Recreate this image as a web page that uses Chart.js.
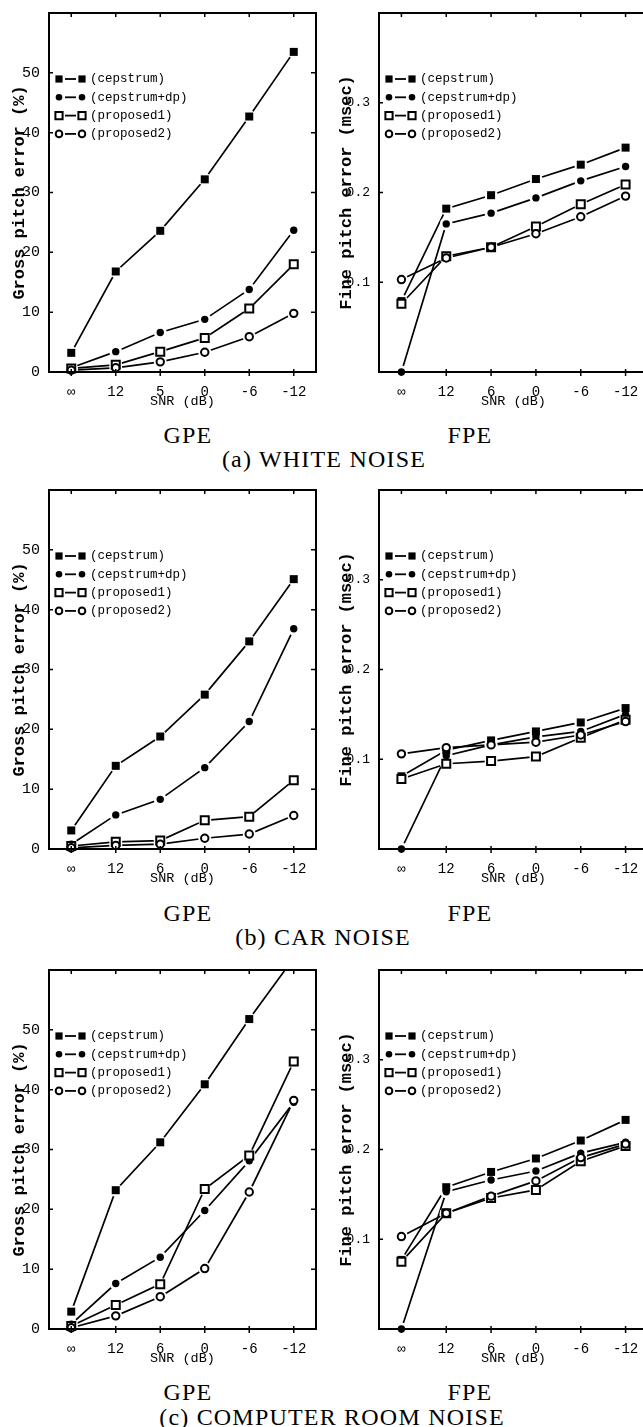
<!DOCTYPE html>
<html>
<head>
<meta charset="utf-8">
<script src="https://cdn.jsdelivr.net/npm/chart.js@4.4.1/dist/chart.umd.min.js"></script>
<style>
  html, body { margin: 0; padding: 0; background: #fff; overflow: hidden; }
  body { width: 643px; height: 1427px; position: relative; }
  canvas { position: absolute; }
  .cap { position: absolute; transform: translate(-50%, -50%); font-family: 'Liberation Serif', serif;
         font-size: 24px; color: #000; white-space: nowrap; letter-spacing: 1.2px; }
</style>
</head>
<body>
<canvas id="gpeWhite" width="320" height="410" style="left:0;top:0"></canvas>
<canvas id="fpeWhite" width="340" height="410" style="left:320px;top:0"></canvas>
<canvas id="gpeCar" width="320" height="410" style="left:0;top:477px"></canvas>
<canvas id="fpeCar" width="340" height="410" style="left:320px;top:477px"></canvas>
<canvas id="gpeRoom" width="320" height="410" style="left:0;top:957px"></canvas>
<canvas id="fpeRoom" width="340" height="410" style="left:320px;top:957px"></canvas>

<div class="cap" style="left:188px;top:435px">GPE</div>
<div class="cap" style="left:470px;top:435px">FPE</div>
<div class="cap" style="left:324px;top:459px">(a) WHITE NOISE</div>
<div class="cap" style="left:188px;top:913px">GPE</div>
<div class="cap" style="left:470px;top:913px">FPE</div>
<div class="cap" style="left:323px;top:937px">(b) CAR NOISE</div>
<div class="cap" style="left:188px;top:1392px">GPE</div>
<div class="cap" style="left:470px;top:1392px">FPE</div>
<div class="cap" style="left:332px;top:1417px">(c) COMPUTER ROOM NOISE</div>

<script>
// x categories (SNR in dB)
const snrLabels = ['∞', '12', '6', '0', '-6', '-12'];
const snrLabelsWhiteGpe = ['∞', '12', '5', '0', '-6', '-12'];
const methods = ['cepstrum', 'cepstrum+dp', 'proposed1', 'proposed2'];

// (a) white noise - gross pitch error (%)
const whiteGpeCepstrum   = [3.2, 16.8, 23.6, 32.2, 42.7, 53.5];
const whiteGpeCepstrumDp = [0.7, 3.4, 6.6, 8.8, 13.8, 23.7];
const whiteGpeProposed1  = [0.6, 1.2, 3.4, 5.7, 10.6, 18.0];
const whiteGpeProposed2  = [0.3, 0.7, 1.7, 3.3, 5.9, 9.8];
// (a) white noise - fine pitch error (msec)
const whiteFpeCepstrum   = [0.079, 0.182, 0.197, 0.215, 0.231, 0.250];
const whiteFpeCepstrumDp = [0.0, 0.165, 0.177, 0.194, 0.213, 0.229];
const whiteFpeProposed1  = [0.076, 0.129, 0.139, 0.162, 0.187, 0.209];
const whiteFpeProposed2  = [0.103, 0.127, 0.139, 0.154, 0.173, 0.196];

// (b) car noise
const carGpeCepstrum   = [3.1, 13.9, 18.8, 25.8, 34.7, 45.1];
const carGpeCepstrumDp = [0.8, 5.7, 8.3, 13.6, 21.3, 36.8];
const carGpeProposed1  = [0.5, 1.2, 1.4, 4.8, 5.4, 11.5];
const carGpeProposed2  = [0.2, 0.6, 0.8, 1.8, 2.5, 5.6];
const carFpeCepstrum   = [0.081, 0.110, 0.121, 0.131, 0.141, 0.157];
const carFpeCepstrumDp = [0.0, 0.104, 0.116, 0.125, 0.131, 0.150];
const carFpeProposed1  = [0.078, 0.095, 0.098, 0.103, 0.124, 0.144];
const carFpeProposed2  = [0.106, 0.113, 0.116, 0.119, 0.127, 0.142];

// (c) computer room noise
const roomGpeCepstrum   = [2.9, 23.2, 31.2, 40.9, 51.8, 62.0];
const roomGpeCepstrumDp = [0.8, 7.6, 12.0, 19.8, 28.1, 37.9];
const roomGpeProposed1  = [0.5, 4.0, 7.5, 23.4, 29.0, 44.7];
const roomGpeProposed2  = [0.2, 2.2, 5.4, 10.1, 22.9, 38.2];
const roomFpeCepstrum   = [0.077, 0.158, 0.175, 0.190, 0.210, 0.233];
const roomFpeCepstrumDp = [0.0, 0.153, 0.166, 0.176, 0.196, 0.208];
const roomFpeProposed1  = [0.075, 0.129, 0.146, 0.155, 0.187, 0.204];
const roomFpeProposed2  = [0.103, 0.129, 0.148, 0.165, 0.191, 0.206];

// marker look per method: filled square, filled circle, open square, open circle
const markerStyles = [
  { shape: 'square', filled: true },
  { shape: 'circle', filled: true },
  { shape: 'square', filled: false },
  { shape: 'circle', filled: false }
];

function drawMarker(ctx, x, y, st, k) {
  const s = 4 * k;
  ctx.beginPath();
  if (st.shape === 'square') ctx.rect(x - s, y - s, 2 * s, 2 * s);
  else ctx.arc(x, y, s - 0.3, 0, Math.PI * 2);
  if (st.filled) {
    ctx.fillStyle = '#000';
    ctx.fill();
  } else {
    ctx.fillStyle = '#fff';
    ctx.fill();
    ctx.lineWidth = 2;
    ctx.strokeStyle = '#000';
    ctx.stroke();
  }
}

// markers with a white halo so the lines stop short of them
const markerPlugin = {
  id: 'markers',
  afterDatasetsDraw(chart) {
    const ctx = chart.ctx, a = chart.chartArea;
    const pts = [];
    chart.data.datasets.forEach((ds, i) => {
      chart.getDatasetMeta(i).data.forEach(p => {
        if (p.y >= a.top - 1 && p.y <= a.bottom + 1) pts.push([p.x, p.y, markerStyles[i]]);
      });
    });
    ctx.save();
    pts.forEach(([x, y]) => {
      ctx.beginPath();
      ctx.arc(x, y, 6.5, 0, Math.PI * 2);
      ctx.fillStyle = '#fff';
      ctx.fill();
    });
    pts.forEach(([x, y, st]) => drawMarker(ctx, x, y, st, 1));
    ctx.restore();
  }
};

// box frame with inward ticks, plus the in-plot legend
const framePlugin = {
  id: 'frame',
  afterDraw(chart) {
    const ctx = chart.ctx, a = chart.chartArea;
    const xs = chart.scales.x, ys = chart.scales.y;
    ctx.save();
    ctx.strokeStyle = '#000';
    ctx.lineWidth = 2;
    ctx.strokeRect(a.left, a.top, a.right - a.left, a.bottom - a.top);
    ctx.lineWidth = 1.5;
    ctx.beginPath();
    xs.ticks.forEach((t, i) => {
      const px = xs.getPixelForTick(i);
      ctx.moveTo(px, a.top); ctx.lineTo(px, a.top + 4);
      ctx.moveTo(px, a.bottom - 3); ctx.lineTo(px, a.bottom + 4);
    });
    ys.ticks.forEach(t => {
      const py = ys.getPixelForValue(t.value);
      ctx.moveTo(a.left, py); ctx.lineTo(a.left + 4, py);
      ctx.moveTo(a.right, py); ctx.lineTo(a.right - 5, py);
    });
    ctx.stroke();

    // legend
    ctx.font = '12.5px "Liberation Mono", monospace';
    ctx.textBaseline = 'middle';
    ctx.fillStyle = '#000';
    chart.data.datasets.forEach((ds, i) => {
      const y = a.top + 66 + i * 18.3;
      const x1 = a.left + 10, x2 = a.left + 33;
      ctx.lineWidth = 1.8;
      ctx.beginPath();
      ctx.moveTo(x1 + 6, y); ctx.lineTo(x2 - 6, y);
      ctx.stroke();
      drawMarker(ctx, x1, y, markerStyles[i], 0.9);
      drawMarker(ctx, x2, y, markerStyles[i], 0.9);
      ctx.fillStyle = '#000';
      ctx.fillText('(' + ds.label + ')', a.left + 41, y);
    });
    ctx.restore();
  }
};

Chart.defaults.font.family = '"Liberation Mono", monospace';
Chart.defaults.color = '#000';

function buildChart(id, labels, series, kind) {
  const gpe = kind === 'gpe';
  return new Chart(document.getElementById(id), {
    type: 'line',
    data: {
      labels: labels,
      datasets: series.map((vals, i) => ({
        label: methods[i],
        data: vals,
        borderColor: '#000',
        borderWidth: 1.7,
        pointRadius: 0,
        tension: 0,
        fill: false
      }))
    },
    options: {
      responsive: false,
      animation: false,
      events: [],
      layout: { padding: { top: 13, right: gpe ? 4 : 12, left: 0, bottom: 0 } },
      plugins: { legend: { display: false }, tooltip: { enabled: false } },
      scales: {
        x: {
          type: 'category',
          offset: true,
          grid: { display: false },
          border: { display: false },
          ticks: { padding: 4, maxRotation: 0, autoSkip: false, font: { size: 14 } },
          title: { display: true, text: 'SNR (dB)', padding: 0, font: { size: 13.5 } },
          afterFit: s => { s.height = 38; }
        },
        y: {
          min: 0,
          max: gpe ? 60 : 0.4,
          grid: { display: false },
          border: { display: false },
          ticks: {
            stepSize: gpe ? 10 : 0.1,
            padding: 1,
            font: { size: gpe ? 15 : 13 },
            callback: v => gpe ? (v >= 60 ? '' : String(v)) : (v > 0.05 && v < 0.35 ? v.toFixed(1) : '')
          },
          title: {
            display: true,
            text: gpe ? 'Gross pitch error (%)' : 'Fine pitch error (msec)',
            padding: { top: gpe ? 10 : 17, bottom: 0 },
            font: { size: 17, weight: 'bold' }
          },
          afterFit: s => { s.width = gpe ? 49 : 59; }
        }
      }
    },
    plugins: [markerPlugin, framePlugin]
  });
}

buildChart('gpeWhite', snrLabelsWhiteGpe, [whiteGpeCepstrum, whiteGpeCepstrumDp, whiteGpeProposed1, whiteGpeProposed2], 'gpe');
buildChart('fpeWhite', snrLabels, [whiteFpeCepstrum, whiteFpeCepstrumDp, whiteFpeProposed1, whiteFpeProposed2], 'fpe');
buildChart('gpeCar', snrLabels, [carGpeCepstrum, carGpeCepstrumDp, carGpeProposed1, carGpeProposed2], 'gpe');
buildChart('fpeCar', snrLabels, [carFpeCepstrum, carFpeCepstrumDp, carFpeProposed1, carFpeProposed2], 'fpe');
buildChart('gpeRoom', snrLabels, [roomGpeCepstrum, roomGpeCepstrumDp, roomGpeProposed1, roomGpeProposed2], 'gpe');
buildChart('fpeRoom', snrLabels, [roomFpeCepstrum, roomFpeCepstrumDp, roomFpeProposed1, roomFpeProposed2], 'fpe');
</script>
</body>
</html>
